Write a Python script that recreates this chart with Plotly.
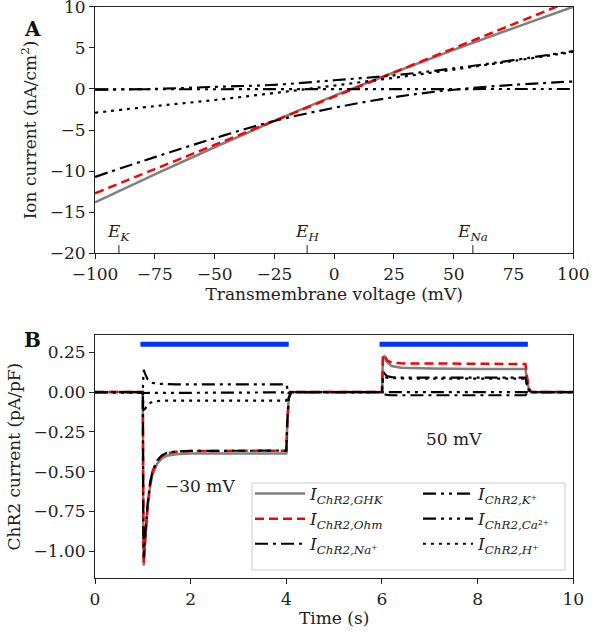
import plotly.graph_objects as go

# ---------------- Panel A data ----------------
V = [-100, -75, -50, -25, 0, 25, 50, 75, 100]
I_GHK_A = [-13.8, -10.4, -7.1, -3.9, -0.85, 2.0, 4.75, 7.4, 10.0]
I_OHM_A = [-12.7, -9.76, -6.82, -3.88, -0.94, 2.0, 4.94, 7.88, 10.82]
I_NA_A = [-10.7, -8.3, -6.0, -3.9, -2.3, -1.0, -0.1, 0.5, 0.9]
I_K_A = [-0.1, 0.0, 0.25, 0.5, 1.05, 1.65, 2.5, 3.5, 4.6]
I_CA_A = [-0.05, -0.04, -0.04, -0.03, -0.03, -0.02, -0.02, -0.01, -0.01]
I_H_A = [-2.9, -2.1, -1.35, -0.5, 0.4, 1.35, 2.35, 3.4, 4.5]

E_LABELS = ["K", "H", "Na"]
E_VALUES = [-90, -11.3, 58]

# ---------------- Panel B data ----------------
T = [0, 0.98, 1.0, 1.01, 1.02, 1.04, 1.07, 1.1, 1.15, 1.2, 1.3, 1.4, 1.5, 1.7, 2.0, 3.0,
     4.0, 4.02, 4.05, 4.1, 5.0, 5.98, 6.0, 6.02, 6.05, 6.1, 6.2, 6.4, 7.0, 8.0, 9.0,
     9.03, 9.07, 9.12, 10.0]
I_GHK_B = [0, 0, 0, -0.9, -1.09, -0.98, -0.84, -0.73, -0.6, -0.52, -0.45, -0.415, -0.40, -0.39,
           -0.386, -0.385, -0.385, -0.2, -0.04, 0, 0, 0, 0, 0.22, 0.225, 0.19, 0.163, 0.152,
           0.147, 0.145, 0.144, 0.08, 0.02, 0, 0]
I_OHM_B = [0, 0, 0, -0.88, -1.07, -0.96, -0.82, -0.71, -0.58, -0.5, -0.43, -0.4, -0.385, -0.375,
           -0.37, -0.368, -0.368, -0.19, -0.04, 0, 0, 0, 0, 0.225, 0.235, 0.2, 0.185, 0.18,
           0.178, 0.177, 0.176, 0.1, 0.025, 0, 0]
I_NA_B = [0, 0, 0, -0.86, -1.04, -0.935, -0.8, -0.7, -0.575, -0.5, -0.43, -0.397, -0.382, -0.373,
          -0.369, -0.368, -0.368, -0.19, -0.038, 0, 0, 0, 0, -0.01, -0.015, -0.018, -0.02, -0.02,
          -0.02, -0.02, -0.02, -0.01, -0.003, 0, 0]
I_K_B = [0, 0, 0, 0.1, 0.14, 0.12, 0.095, 0.08, 0.066, 0.058, 0.052, 0.05, 0.049, 0.048,
         0.048, 0.048, 0.048, 0.025, 0.005, 0, 0, 0, 0, 0.1, 0.118, 0.1, 0.094, 0.091,
         0.09, 0.09, 0.09, 0.05, 0.012, 0, 0]
I_CA_B = [0, 0, 0, -0.004, -0.006, -0.006, -0.005, -0.005, -0.005, -0.005, -0.004, -0.004, -0.004,
          -0.004, -0.004, -0.004, -0.004, -0.002, 0, 0, 0, 0, 0, -0.003, -0.004, -0.004, -0.004,
          -0.004, -0.004, -0.004, -0.004, -0.002, 0, 0, 0]
I_H_B = [0, 0, 0, -0.1, -0.13, -0.11, -0.09, -0.078, -0.068, -0.062, -0.057, -0.055, -0.054,
         -0.054, -0.054, -0.054, -0.054, -0.03, -0.005, 0, 0, 0, 0, 0.085, 0.098, 0.09, 0.087,
         0.085, 0.084, 0.084, 0.084, 0.045, 0.01, 0, 0]

LIGHT_START = [0.95, 5.95]
LIGHT_END = [4.05, 9.05]
LIGHT_LEVEL = 0.30

VOLT_TEXT = ["\u221230 mV", "50 mV"]
VOLT_T = [2.2, 7.5]
VOLT_Y = [-0.59, -0.297]

SERIES_NAMES = [
    "<i>I</i><sub><i>ChR2,GHK</i></sub>",
    "<i>I</i><sub><i>ChR2,Ohm</i></sub>",
    "<i>I</i><sub><i>ChR2,Na</i>\u207a</sub>",
    "<i>I</i><sub><i>ChR2,K</i>\u207a</sub>",
    "<i>I</i><sub><i>ChR2,Ca</i>\u00b2\u207a</sub>",
    "<i>I</i><sub><i>ChR2,H</i>\u207a</sub>",
]

STYLES = [
    dict(color="#808080", width=2.5, dash="solid"),
    dict(color="#ff0000", width=2.5, dash="9px,5px"),
    dict(color="#000000", width=2.2, dash="13px,5px,3px,5px"),
    dict(color="#000000", width=2.2, dash="13px,5px,3px,5px,3px,5px"),
    dict(color="#000000", width=2.2, dash="13px,5px,3px,5px,3px,5px,3px,5px"),
    dict(color="#000000", width=2.2, dash="3px,5px"),
]

FONT = "DejaVu Serif"
FS = 17
W, H = 602, 632

fig = go.Figure()

A_series = [I_GHK_A, I_OHM_A, I_NA_A, I_K_A, I_CA_A, I_H_A]
for ys, st in zip(A_series, STYLES):
    fig.add_trace(go.Scatter(x=V, y=ys, mode="lines", line=dict(shape="spline", **st),
                             showlegend=False, xaxis="x", yaxis="y", hoverinfo="skip"))

B_series = [I_GHK_B, I_OHM_B, I_NA_B, I_K_B, I_CA_B, I_H_B]
legend_ids = ["legend", "legend", "legend", "legend2", "legend2", "legend2"]
for ys, st, nm, lg in zip(B_series, STYLES, SERIES_NAMES, legend_ids):
    fig.add_trace(go.Scatter(x=T, y=ys, mode="lines", line=st, name=nm, legend=lg,
                             xaxis="x2", yaxis="y2"))

# light bars
for s, e in zip(LIGHT_START, LIGHT_END):
    fig.add_trace(go.Scatter(x=[s, e], y=[LIGHT_LEVEL, LIGHT_LEVEL], mode="lines",
                             line=dict(color="#0033ff", width=5), showlegend=False,
                             xaxis="x2", yaxis="y2"))

def px2paper_x(px):
    return px / W

def px2paper_y(py):
    return 1 - py / H

axis_common = dict(showgrid=False, zeroline=False, showline=True, mirror=True,
                   linecolor="#222222", linewidth=1, ticks="outside", ticklen=5,
                   tickcolor="#222222", automargin=False, ticklabeloverflow="allow",
                   tickfont=dict(family=FONT, size=FS, color="#222222"))

title_font = dict(family=FONT, size=FS, color="#222222")
xdom = [px2paper_x(95), px2paper_x(573.3)]
fig.update_layout(
    width=W, height=H,
    margin=dict(l=0, r=0, t=0, b=0, autoexpand=False),
    paper_bgcolor="white", plot_bgcolor="white",
    font=dict(family=FONT, size=FS, color="#222222"),
    xaxis=dict(domain=xdom, range=[-100, 100], tickvals=[-100, -75, -50, -25, 0, 25, 50, 75, 100],
               anchor="y",
               title=dict(text="Transmembrane voltage (mV)", font=title_font, standoff=4),
               **axis_common),
    yaxis=dict(domain=[px2paper_y(253.3), px2paper_y(6.7)], range=[-20, 10],
               tickvals=[-20, -15, -10, -5, 0, 5, 10], anchor="x",
               title=dict(text="Ion current (nA/cm<sup>2</sup>)", font=title_font, standoff=8),
               **axis_common),
    xaxis2=dict(domain=xdom, range=[0, 10], tickvals=[0, 2, 4, 6, 8, 10], anchor="y2",
                title=dict(text="Time (s)", font=title_font, standoff=4),
                **axis_common),
    yaxis2=dict(domain=[px2paper_y(578.3), px2paper_y(335)], range=[-1.169, 0.358],
                tickvals=[0.25, 0, -0.25, -0.5, -0.75, -1.0], tickformat=".2f", anchor="x2",
                title=dict(text="ChR2 current (pA/pF)", font=title_font, standoff=8),
                **axis_common),
    legend=dict(x=px2paper_x(250), y=px2paper_y(476), xanchor="left", yanchor="top",
                bgcolor="rgba(0,0,0,0)", borderwidth=0, itemwidth=50,
                font=dict(family=FONT, size=FS, color="#222222"), tracegroupgap=0),
    legend2=dict(x=px2paper_x(418), y=px2paper_y(476), xanchor="left", yanchor="top",
                 bgcolor="rgba(0,0,0,0)", borderwidth=0, itemwidth=50,
                 font=dict(family=FONT, size=FS, color="#222222"), tracegroupgap=0),
)

# legend frame
fig.add_shape(type="rect", xref="paper", yref="paper",
              x0=px2paper_x(252), x1=px2paper_x(565), y0=px2paper_y(570), y1=px2paper_y(483),
              line=dict(color="#cccccc", width=1), fillcolor="rgba(255,255,255,0.8)",
              layer="below")

# reversal potential markers
for lab, ev in zip(E_LABELS, E_VALUES):
    fig.add_shape(type="line", xref="x", yref="y", x0=ev, x1=ev, y0=-20, y1=-19.0,
                  line=dict(color="#222222", width=1))
    fig.add_annotation(x=ev, y=-19.1, xref="x", yref="y", showarrow=False,
                       text=f"<i>E</i><sub><i>{lab}</i></sub>", yanchor="bottom",
                       font=dict(family=FONT, size=FS, color="#222222"))

for txt, tx, ty in zip(VOLT_TEXT, VOLT_T, VOLT_Y):
    fig.add_annotation(x=tx, y=ty, xref="x2", yref="y2", text=txt, showarrow=False,
                       font=dict(family=FONT, size=FS, color="#222222"))

fig.add_annotation(x=px2paper_x(22), y=px2paper_y(15), xref="paper", yref="paper", text="<b>A</b>",
                   showarrow=False, font=dict(family=FONT, size=20, color="#111111"))
fig.add_annotation(x=px2paper_x(22), y=px2paper_y(340), xref="paper", yref="paper", text="<b>B</b>",
                   showarrow=False, font=dict(family=FONT, size=20, color="#111111"))

fig.write_html("out.html", config={"displayModeBar": False},
               post_script="document.body.style.margin='0px';document.body.style.overflow='hidden';")
